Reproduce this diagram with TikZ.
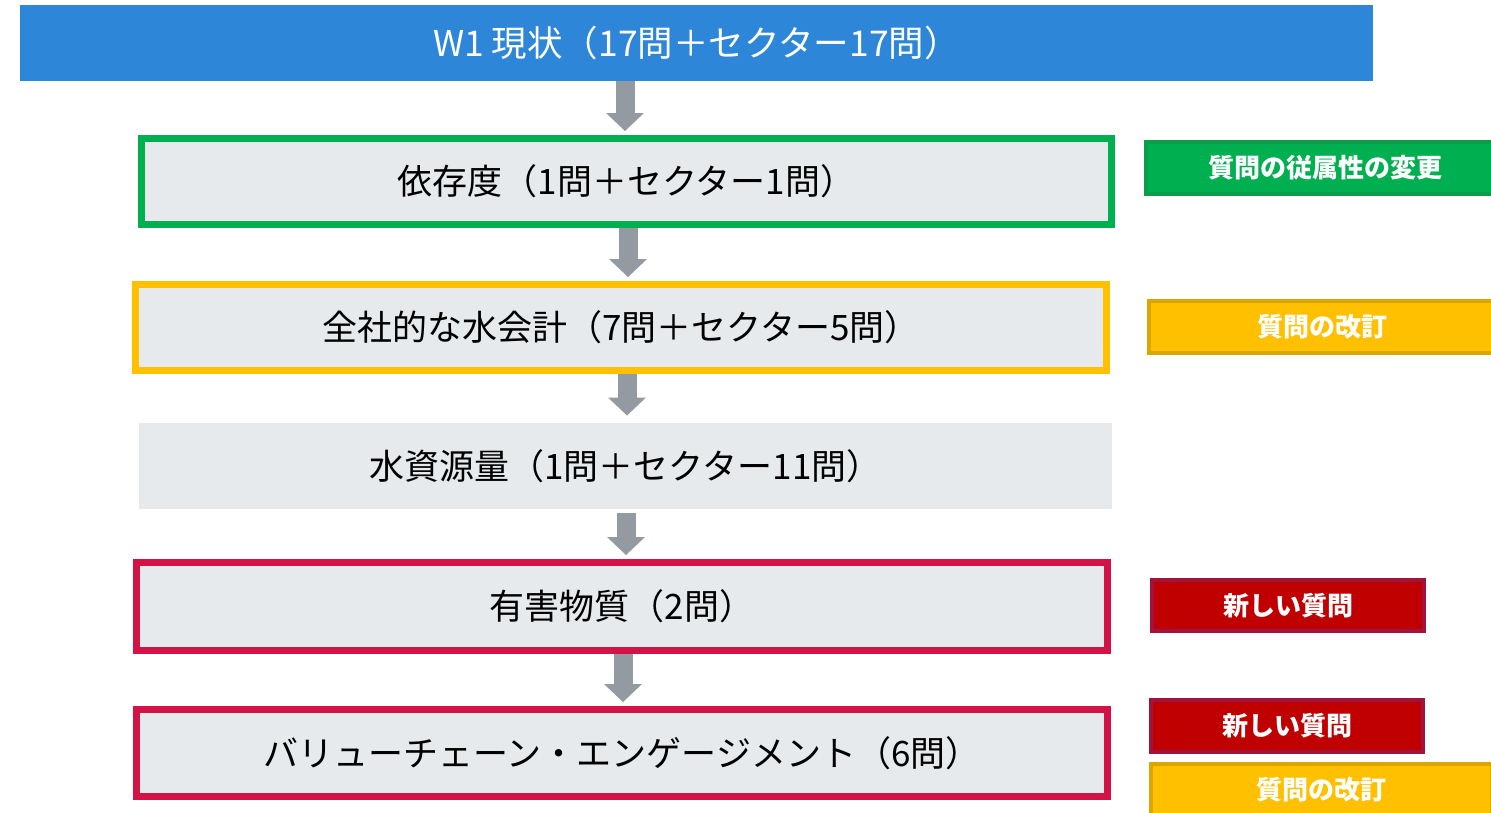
\documentclass[tikz,border=0pt]{standalone}
\usepackage{fontspec}
\setmainfont{Noto Sans CJK JP}
\usetikzlibrary{arrows.meta}
\definecolor{topblue}{HTML}{2E86D9}
\definecolor{boxgray}{HTML}{E7EAED}
\definecolor{bgreen}{HTML}{00B050}
\definecolor{byellow}{HTML}{FFC000}
\definecolor{bred}{HTML}{D31345}
\definecolor{arrowgray}{HTML}{939AA1}
\definecolor{tgreenline}{HTML}{0A9E48}
\definecolor{tyellowline}{HTML}{DAA600}
\definecolor{tred}{HTML}{C00000}
\definecolor{tredline}{HTML}{A0143C}
\tikzset{
  stagebox/.style={fill=boxgray, line width=7pt, inner sep=0pt, minimum height=86pt,
    text=black, font=\fontsize{35}{42}\selectfont},
  tagbox/.style={line width=4pt, inner sep=0pt, minimum height=52pt,
    text=white, font=\fontsize{26}{32}\selectfont\bfseries},
  flowarrow/.style={draw=arrowgray, line width=19pt, shorten >=4pt,
    -{Triangle[length=18pt,width=38pt,line width=0pt]}},
}
\begin{document}
\begin{tikzpicture}[x=1pt,y=-1pt]
\useasboundingbox (0,0) rectangle (1491,812);
\clip (0,0) rectangle (1491,812);

\node[fill=topblue, inner sep=0pt, minimum width=1353pt, minimum height=76pt,
  text=white, font=\fontsize{35.5}{42}\selectfont] (top) at (696.5,43) {W1 現状（17問＋セクター17問）};

\node[stagebox, draw=bgreen, minimum width=970pt] (dep) at (626.5,181.5) {依存度（1問＋セクター1問）};
\node[stagebox, draw=byellow, minimum width=971pt] (acc) at (621,327.5) {全社的な水会計（7問＋セクター5問）};
\node[stagebox, minimum width=973pt] (res) at (625.5,466) {水資源量（1問＋セクター11問）};
\node[stagebox, draw=bred, minimum width=971pt, minimum height=88pt] (haz) at (622,606.5) {有害物質（2問）};
\node[stagebox, draw=bred, minimum width=971pt, minimum height=87pt] (vc) at (622,753) {バリューチェーン・エンゲージメント（6問）};

\draw[flowarrow] (top.south -| 625,0) -- (dep.north -| 625,0);
\draw[flowarrow] (dep.south -| 628,0) -- (acc.north -| 628,0);
\draw[flowarrow] (acc.south -| 627,0) -- (res.north -| 627,0);
\draw[flowarrow] (res.south -| 626,0) -- (haz.north -| 626,0);
\draw[flowarrow] (haz.south -| 623,0) -- (vc.north -| 623,0);

\node[tagbox, fill=bgreen, draw=tgreenline, minimum width=358pt] (t1) at (1325,168) {質問の従属性の変更};
\node[tagbox, fill=byellow, draw=tyellowline, minimum width=346pt] (t2) at (1322,327) {質問の改訂};
\node[tagbox, fill=tred, draw=tredline, minimum width=272pt, minimum height=51pt] (t3) at (1288,605.5) {新しい質問};
\node[tagbox, fill=tred, draw=tredline, minimum width=272pt] (t4) at (1287,726) {新しい質問};
\node[tagbox, fill=byellow, draw=tyellowline, minimum width=341pt] (t5) at (1321.5,790) {質問の改訂};
\end{tikzpicture}
\end{document}
